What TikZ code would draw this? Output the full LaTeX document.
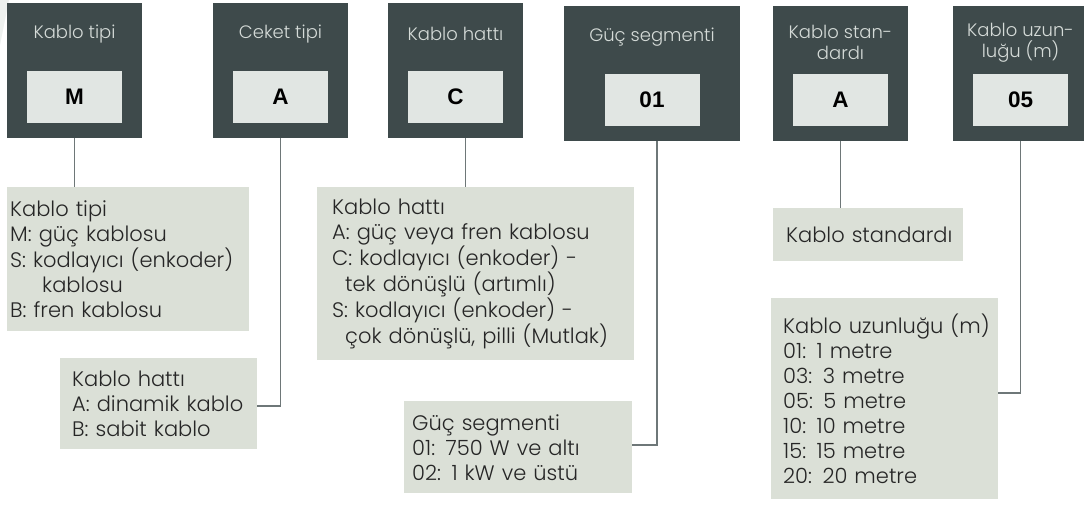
\documentclass[tikz,border=0pt]{standalone}
\usepackage{fontspec}
\setmainfont{Poppins Light}[Numbers=Proportional]
\newfontfamily\codefont{Liberation Sans}
\usetikzlibrary{positioning}
\definecolor{darkslate}{HTML}{3E4A4B}
\definecolor{codegray}{HTML}{E1E6E3}
\definecolor{descgreen}{HTML}{DBE0D7}
\definecolor{headgray}{HTML}{D5DBD8}
\definecolor{linegray}{HTML}{6E7778}
\definecolor{ghostgray}{HTML}{EEF1EF}
\tikzset{
    catbox/.style = {rectangle, fill=darkslate, minimum width=135pt, minimum height=135pt, inner sep=0pt},
    codebox/.style = {rectangle, fill=codegray, minimum width=95pt, minimum height=52pt, inner sep=0pt, font=\codefont\bfseries\fontsize{22.5}{22.5}\selectfont, text=black},
    headtext/.style = {align=center, text=headgray, font=\fontsize{18}{21}\selectfont, inner sep=0pt},
    descbox/.style = {rectangle, fill=descgreen, anchor=north west, align=left, inner ysep=0pt, font=\fontsize{21}{25}\selectfont, text=black!85},
    edgec/.style = {-, line width=1.5pt, linegray}
}

\begin{document}
\begin{tikzpicture}[x=1pt,y=-1pt]
\useasboundingbox (0,0) rectangle (1084,504);
\fill[ghostgray] (0,0) -- (9,0) -- (0,45) -- cycle;
% code boxes
\node[catbox] (tipbox) at (74.5,70.5) {};
\node[catbox] (ceketbox) at (280.5,70.5) {};
\node[catbox] (hattbox) at (455.5,70.5) {};
\node[catbox, minimum width=176pt] (gucbox) at (652,73.5) {};
\node[catbox] (stdbox) at (840.5,73.5) {};
\node[catbox] (uzunbox) at (1020.5,73.5) {};
%
\node[headtext] (tiphead) at ([yshift=-31pt]tipbox.north) {Kablo tipi};
\node[headtext] (ckthead) at ([yshift=-31pt]ceketbox.north) {Ceket tipi};
\node[headtext] (hatthead) at ([yshift=-31pt]hattbox.north) {Kablo hattı};
\node[headtext] (guchead) at ([yshift=-31pt]gucbox.north) {Güç segmenti};
\node[headtext] (stdhead) at ([yshift=-36.5pt]stdbox.north) {Kablo stan-\\dardı};
\node[headtext] (uzunhead) at ([yshift=-36.5pt]uzunbox.north) {Kablo uzun-\\luğu (m)};
%
\node[codebox] (tipcode) at ([yshift=-26.5pt]tipbox.center) {M};
\node[codebox] (ckcode) at ([yshift=-26.5pt]ceketbox.center) {A};
\node[codebox] (hattcode) at ([yshift=-26.5pt]hattbox.center) {C};
\node[codebox] (guccode) at ([yshift=-26.5pt]gucbox.center) {01};
\node[codebox] (stdcode) at ([yshift=-26.5pt]stdbox.center) {A};
\node[codebox] (uzuncode) at ([yshift=-26.5pt]uzunbox.center) {05};
% descriptions
\node[descbox, inner xsep=3pt, text width=236pt, minimum height=144pt] at (7,187) (tipdesc)
  {Kablo tipi\\M: güç kablosu\\S: kodlayıcı (enkoder)\\\hspace*{32pt}kablosu\\B: fren kablosu};
\node[descbox, inner xsep=12pt, text width=173pt, minimum height=91pt] at (60,358) (ckdesc)
  {Kablo hattı\\A: dinamik kablo\\B: sabit kablo};
\node[descbox, inner xsep=15pt, text width=287pt, minimum height=173pt] at (317,187) (hattdesc)
  {Kablo hattı\\A: güç veya fren kablosu\\C: kodlayıcı (enkoder) -\\\hspace*{13pt}tek dönüşlü (artımlı)\\S: kodlayıcı (enkoder) -\\\hspace*{13pt}\mbox{çok dönüşlü, pilli (Mutlak)}};
\node[descbox, inner xsep=8pt, text width=212pt, minimum height=92pt] at (404,401) (gucdesc)
  {Güç segmenti\\01: 750 W ve altı\\02: 1 kW ve üstü};
\node[descbox, inner xsep=13pt, text width=164pt, minimum height=53pt] at (773,208) (stddesc)
  {\mbox{Kablo standardı}};
\node[descbox, inner xsep=12pt, text width=203pt, minimum height=201pt] at (771,298) (uzundesc)
  {\mbox{Kablo uzunluğu (m)}\\01: 1 metre\\03: 3 metre\\05: 5 metre\\10: 10 metre\\15: 15 metre\\20: 20 metre};
% connectors
\draw[edgec] (tipbox.south) -- (tipbox.south |- tipdesc.north);
\draw[edgec] (ceketbox.south) |- ([yshift=-2.5pt]ckdesc.east);
\draw[edgec] ([xshift=10pt]hattbox.south) -- ([xshift=10pt]hattbox.south |- hattdesc.north);
\draw[edgec] ([xshift=5pt]gucbox.south) |- ([yshift=2pt]gucdesc.east);
\draw[edgec] (stdbox.south) -- (stdbox.south |- stddesc.north);
\draw[edgec] (uzunbox.south) |- ([yshift=5.5pt]uzundesc.east);
\end{tikzpicture}
\end{document}
